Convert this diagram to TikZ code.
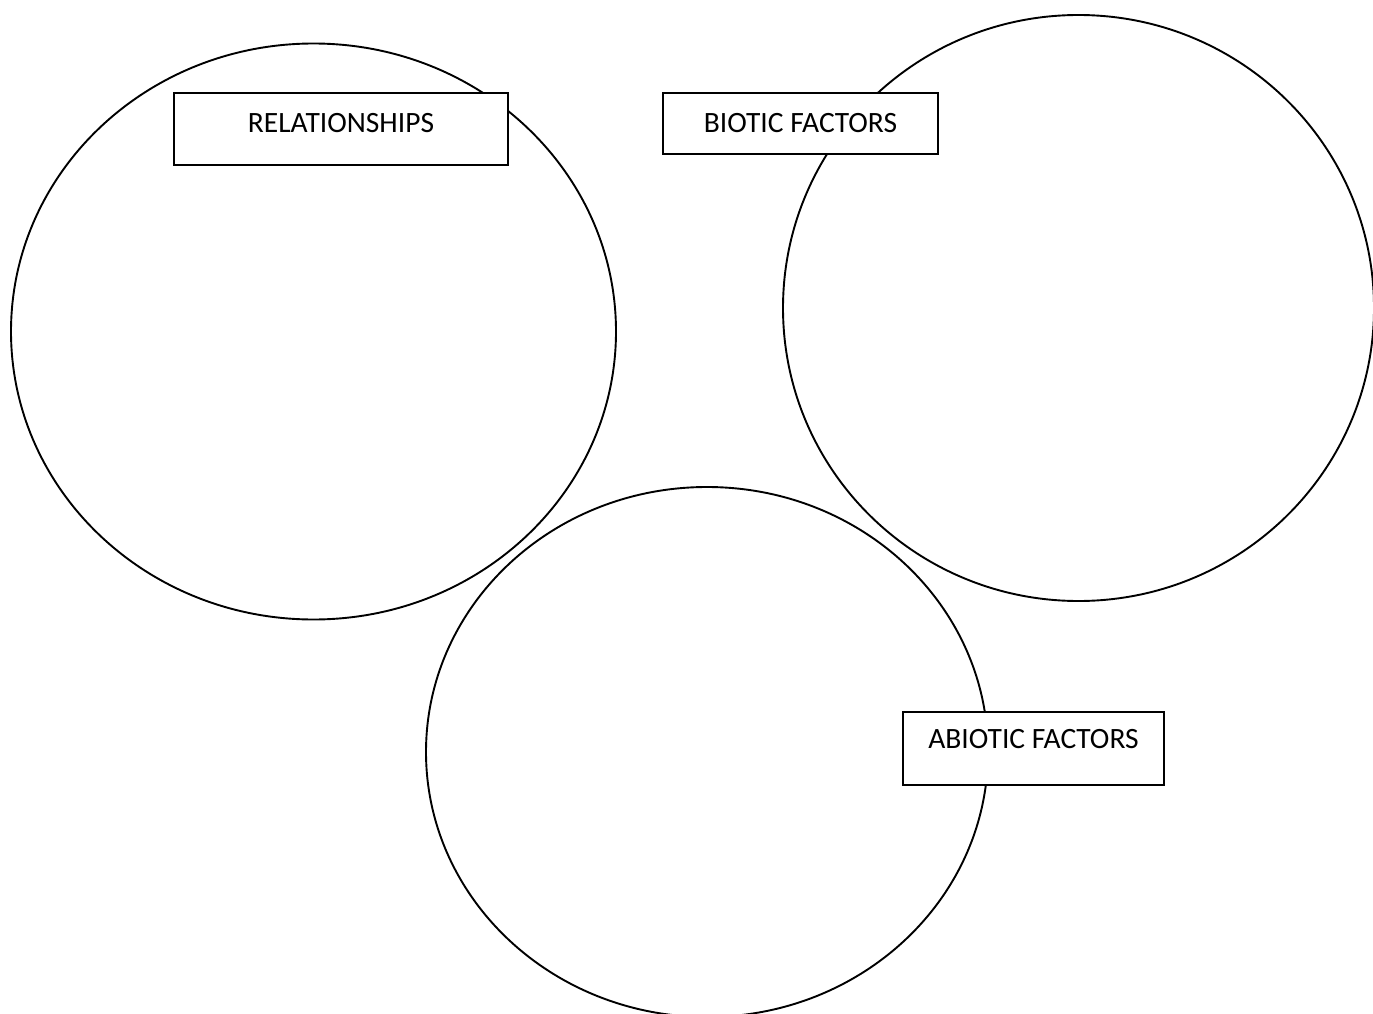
\documentclass[tikz,border=0pt]{standalone}
\usepackage{fontspec}
\setmainfont{Carlito}
\usetikzlibrary{shapes.geometric}
\begin{document}
\begin{tikzpicture}[x=1pt,y=-1pt,
  ring/.style={draw=black,line width=1.9pt,ellipse,inner sep=0pt},
  labelbox/.style={draw=black,line width=1.9pt,fill=white,rectangle,inner sep=0pt,
    font=\fontsize{29.5}{34}\selectfont,text height=19pt,text depth=13pt}]
\useasboundingbox (0,0) rectangle (1373,1014);
\node[ring,minimum width=605pt,minimum height=576pt] (rel) at (313.5,331.5) {};
\node[ring,minimum width=591pt,minimum height=586pt] (bio) at (1078.5,308) {};
\node[ring,minimum width=562pt,minimum height=530pt] (abio) at (707,752) {};
\node[labelbox,minimum width=334pt,minimum height=72pt] (relbox) at (341,129) {RELATIONSHIPS};
\node[labelbox,minimum width=275pt,minimum height=61pt,text depth=2pt] (biobox) at (800.5,123.5) {BIOTIC FACTORS};
\node[labelbox,minimum width=261pt,minimum height=73pt,text depth=20pt] (abiobox) at (1033.5,748.5) {ABIOTIC FACTORS};
\end{tikzpicture}
\end{document}
